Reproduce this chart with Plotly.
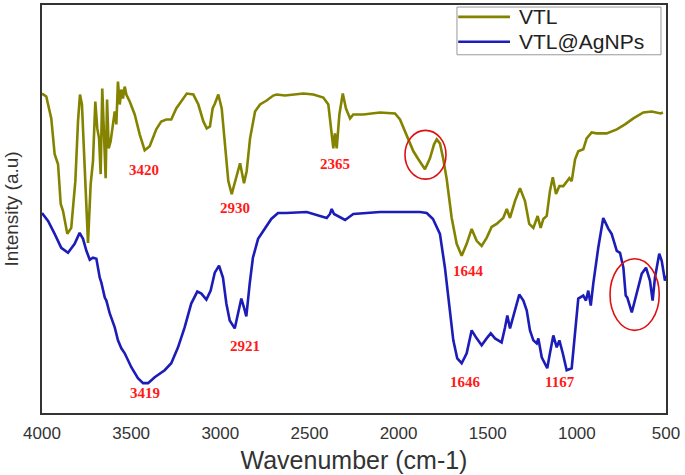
import plotly.graph_objects as go

# ---- data (wavenumber in cm-1, intensity in arbitrary units) ----
vtl_wn = [4000, 3976, 3948, 3929, 3910, 3895, 3882, 3858, 3836, 3813, 3798, 3787, 3776, 3760, 3742,
          3727, 3714, 3701, 3690, 3680, 3671, 3662, 3652, 3643, 3635, 3626, 3615, 3602, 3592, 3583,
          3574, 3564, 3555, 3546, 3536, 3527, 3508, 3480, 3452, 3424, 3396, 3359, 3331, 3303, 3275,
          3247, 3226, 3188, 3151, 3123, 3095, 3076, 3058, 3043, 3030, 3011, 2992, 2974, 2955, 2936,
          2912, 2889, 2867, 2852, 2833, 2805, 2777, 2740, 2703, 2684, 2637, 2590, 2534, 2478, 2422,
          2394, 2375, 2366, 2357, 2347, 2332, 2313, 2295, 2272, 2254, 2198, 2104, 2020, 1992, 1964,
          1940, 1917, 1889, 1852, 1824, 1801, 1786, 1768, 1749, 1730, 1702, 1674, 1646, 1618, 1590,
          1562, 1534, 1506, 1478, 1450, 1413, 1393, 1375, 1347, 1319, 1291, 1267, 1244, 1220, 1203,
          1188, 1169, 1151, 1135, 1117, 1098, 1076, 1057, 1042, 1029, 1010, 992, 964, 945, 917,
          889, 833, 776, 730, 683, 627, 580, 530, 517]
vtl_int = [321, 318, 296, 260, 250, 210, 203, 180, 186, 233, 293, 320, 310, 243, 171,
           230, 253, 313, 286, 276, 240, 326, 266, 236, 315, 266, 273, 290, 303, 290,
           333, 310, 325, 316, 328, 320, 313, 300, 280, 264, 268, 285, 293, 295, 295,
           306, 311, 321, 320, 310, 293, 286, 288, 306, 311, 320, 306, 266, 233, 220,
           236, 251, 231, 243, 276, 303, 310, 314, 319, 320, 319, 320, 321, 320, 317,
           310, 283, 266, 281, 266, 300, 321, 306, 296, 300, 300, 302, 301, 295, 283,
           271, 263, 255, 245, 256, 270, 275, 271, 255, 235, 196, 170, 158, 170, 185,
           173, 168, 176, 187, 190, 196, 205, 196, 213, 226, 213, 190, 186, 198, 186,
           195, 198, 223, 237, 220, 228, 228, 233, 236, 233, 255, 263, 265, 276, 282,
           281, 281, 285, 290, 296, 302, 303, 301, 302]

ag_wn = [4000, 3966, 3929, 3892, 3854, 3817, 3789, 3770, 3751, 3732, 3714, 3695, 3676, 3667, 3648,
         3639, 3620, 3592, 3574, 3555, 3536, 3499, 3462, 3433, 3405, 3368, 3312, 3275, 3237, 3200,
         3163, 3129, 3106, 3078, 3054, 3031, 3007, 2985, 2966, 2947, 2919, 2901, 2882, 2867, 2854,
         2835, 2817, 2788, 2751, 2714, 2676, 2630, 2515, 2403, 2385, 2375, 2362, 2300, 2254, 2104,
         1880, 1842, 1807, 1768, 1740, 1712, 1693, 1671, 1646, 1618, 1590, 1562, 1534, 1506, 1483,
         1459, 1422, 1403, 1390, 1375, 1351, 1323, 1300, 1281, 1263, 1244, 1225, 1216, 1197, 1179,
         1166, 1151, 1132, 1113, 1098, 1079, 1057, 1029, 1010, 992, 964, 949, 936, 922, 908,
         880, 852, 823, 805, 776, 758, 739, 726, 717, 692, 664, 636, 612, 590, 575,
         562, 538, 524, 506, 500]
ag_int = [201, 193, 180, 166, 161, 170, 181, 175, 163, 154, 156, 155, 136, 131, 116,
          113, 100, 86, 73, 65, 60, 46, 35, 30, 30, 36, 43, 50, 66, 86,
          110, 122, 120, 114, 123, 141, 148, 136, 110, 93, 85, 100, 115, 106, 97,
          130, 156, 175, 185, 195, 201, 201, 202, 196, 200, 205, 200, 194, 200, 202,
          202, 201, 195, 180, 146, 103, 73, 55, 50, 60, 83, 75, 68, 75, 80,
          75, 71, 86, 98, 85, 100, 119, 113, 103, 83, 73, 70, 75, 56, 50,
          45, 60, 78, 66, 73, 60, 43, 45, 83, 115, 118, 113, 123, 108, 130,
          166, 196, 185, 180, 163, 161, 146, 118, 116, 101, 120, 140, 146, 133, 113,
          136, 160, 153, 133, 138]

series_names = ["VTL", "VTL@AgNPs"]
series_colors = ["#838300", "#1c1cb8"]

peak_labels = ["3420", "2930", "2365", "1644", "3419", "2921", "1646", "1167"]
peak_x = [3428, 2917, 2357, 1609, 3424, 2861, 1627, 1095]
peak_y = [244, 206, 250, 143, 20, 67, 31, 31]

x_ticks = [4000, 3500, 3000, 2500, 2000, 1500, 1000, 500]

fig = go.Figure()
for name, col, xs, ys in zip(series_names, series_colors, [vtl_wn, ag_wn], [vtl_int, ag_int]):
    fig.add_trace(go.Scatter(x=xs, y=ys, mode="lines", name=name,
                             line=dict(color=col, width=2.6)))

for t, xx, yy in zip(peak_labels, peak_x, peak_y):
    fig.add_annotation(x=xx, y=yy, text="<b>" + t + "</b>", showarrow=False,
                       font=dict(family="Liberation Serif, Times New Roman, serif",
                                 size=15, color="#ff1a1a"))

fig.add_shape(type="circle", xref="x", yref="y", x0=1964, x1=1734, y0=235, y1=284,
              line=dict(color="#e01010", width=1.6))
fig.add_shape(type="circle", xref="x", yref="y", x0=814, x1=538, y0=83, y1=155,
              line=dict(color="#e01010", width=1.6))

# legend box (drawn in paper space to match the compact original legend)
fig.add_shape(type="rect", xref="paper", yref="paper", x0=0.665, x1=0.992, y0=0.878, y1=0.995,
              line=dict(color="#999999", width=1), fillcolor="white", layer="above")
for i, (name, col) in enumerate(zip(series_names, series_colors)):
    yy = 0.971 - i * 0.061
    fig.add_shape(type="line", xref="paper", yref="paper", x0=0.667, x1=0.750, y0=yy, y1=yy,
                  line=dict(color=col, width=2.6), layer="above")
    fig.add_annotation(xref="paper", yref="paper", x=0.761, y=yy, text=name,
                       xanchor="left", yanchor="middle", showarrow=False,
                       font=dict(size=21, color="#222222"))

# y-axis title as a rotated annotation for exact placement
fig.add_annotation(xref="paper", yref="paper", x=-0.049, y=0.5, text="Intensity (a.u)",
                   textangle=-90, showarrow=False, xanchor="center", yanchor="middle",
                   font=dict(size=19, color="#333333"))

fig.update_layout(
    width=685, height=475,
    margin=dict(l=42, r=19, t=3, b=62),
    paper_bgcolor="white", plot_bgcolor="white",
    font=dict(family="Liberation Sans, Arial, sans-serif", color="#333333"),
    showlegend=False,
)
fig.update_xaxes(range=[4000, 500], tickvals=x_ticks, ticks="", showgrid=False,
                 zeroline=False, showline=True, mirror=True, linecolor="#333333",
                 linewidth=2, tickfont=dict(size=17, color="#333333"),
                 ticklabelstandoff=4,
                 title=dict(text="Wavenumber (cm-1)", font=dict(size=25, color="#333333"),
                            standoff=9))
fig.update_yaxes(range=[0, 410], showticklabels=False, ticks="", showgrid=False,
                 zeroline=False, showline=True, mirror=True, linecolor="#333333",
                 linewidth=2)

fig.write_html("out.html", config={"displayModeBar": False},
               post_script="document.body.style.margin='0px';")
